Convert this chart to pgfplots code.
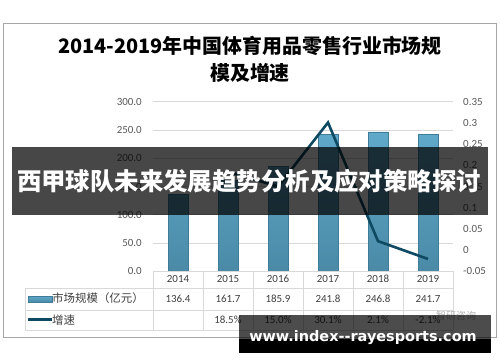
\documentclass[border=0pt]{standalone}
\usepackage{pgfplots}
\pgfplotsset{compat=1.18}
\usepackage{fontspec}
\setmainfont{Carlito}
\newfontfamily\cjk{Noto Sans CJK SC}
\newfontfamily\dvs{DejaVu Sans}
\definecolor{bartop}{HTML}{60A9CA}
\definecolor{barbot}{HTML}{4A8AA7}
\definecolor{bardraw}{HTML}{3F7C98}
\definecolor{linec}{HTML}{0E4A62}
\definecolor{labgray}{HTML}{595959}
\definecolor{txtgray}{HTML}{404040}
\definecolor{gridc}{HTML}{D9D9D9}
\begin{document}
\begin{tikzpicture}[x=1bp,y=1bp]
\path[use as bounding box] (0,0) rectangle (500,362);
\fill[white] (0,0) rectangle (500,362);
\draw[gray!70, line width=0.9bp] (3,339) rectangle (496,25);
% title
\node[font=\cjk\bfseries\fontsize{20}{24}\selectfont, text=black] at (250,316) {2014-2019年中国体育用品零售行业市场规};
\node[font=\cjk\bfseries\fontsize{20}{24}\selectfont, text=black] at (250,289) {模及增速};
% left axis with bars
\begin{axis}[at={(153bp,90.75bp)}, anchor=south west, scale only axis,
  width=300bp, height=169.5bp,
  xmin=-0.5, xmax=5.5, ymin=0, ymax=300,
  ytick={0,50,100,150,200,250,300}, xtick=\empty,
  axis line style={draw=none}, major tick length=0,
  ymajorgrids, grid style={gridc, line width=0.9bp},
  yticklabel style={font=\fontsize{11}{12}\selectfont, text=labgray, inner sep=0pt, xshift=-11bp,
    /pgf/number format/fixed, /pgf/number format/fixed zerofill,
    /pgf/number format/precision=1, /pgf/number format/assume math mode=true},
  ybar, bar width=20bp]
\addplot[draw=bardraw, line width=0.6bp, top color=bartop, bottom color=barbot]
  coordinates {(0,136.4) (1,161.7) (2,185.9) (3,241.8) (4,246.8) (5,241.7)};
\end{axis}
% right axis with growth line
\begin{axis}[at={(153bp,90.75bp)}, anchor=south west, scale only axis,
  width=300bp, height=169.5bp,
  xmin=-0.5, xmax=5.5, ymin=-0.05, ymax=0.35,
  axis y line*=right, axis x line=none,
  axis line style={draw=none}, major tick length=0,
  ytick={-0.05,0,0.05,0.1,0.15,0.2,0.25,0.3,0.35},
  yticklabels={-0.05,0,0.05,0.1,0.15,0.2,0.25,0.3,0.35},
  yticklabel style={font=\fontsize{11}{12}\selectfont, text=labgray, inner sep=0pt, xshift=10bp, anchor=west},
  xtick=\empty]
\addplot[linec, line width=2.6bp, no marks, line join=miter]
  coordinates {(1,0.185) (2,0.150) (3,0.301) (4,0.021) (5,-0.021)};
\end{axis}
% data table
\begin{scope}[gridc, line width=0.9bp]
\draw (153,90.75) -- (453,90.75);
\draw (25,74) -- (453,74);
\draw (25,52) -- (453,52);
\draw (25,32) -- (453,32);
\draw (25,74) -- (25,32);
\foreach \x in {153,203,253,303,353,403,453} {\draw (\x,90.75) -- (\x,32);}
\end{scope}
\foreach \y [count=\i from 0] in {2014,2015,2016,2017,2018,2019}
  {\node[font=\fontsize{11}{12}\selectfont, text=txtgray] at (178+50*\i,83) {\y};}
\foreach \v [count=\i from 0] in {136.4,161.7,185.9,241.8,246.8,241.7}
  {\node[font=\fontsize{11}{12}\selectfont, text=txtgray] at (178+50*\i,63.5) {\v};}
\foreach \v [count=\i from 1] in {18.5\%,15.0\%,30.1\%,2.1\%,-2.1\%}
  {\node[font=\fontsize{11}{12}\selectfont, text=txtgray] at (178+50*\i,42) {\v};}
\shade[top color=bartop, bottom color=barbot, draw=bardraw, line width=0.5bp] (28,60) rectangle (52,66);
\draw[linec, line width=3bp] (28,43) -- (52,43);
\node[font=\cjk\fontsize{11.5}{13}\selectfont, text=txtgray, anchor=west, inner sep=0pt] at (52,63.5) {市场规模（亿元）};
\node[font=\cjk\fontsize{11.5}{13}\selectfont, text=txtgray, anchor=west, inner sep=0pt] at (52,42) {增速};
\node[font=\cjk\fontsize{10}{12}\selectfont, text=gray!60, anchor=west, inner sep=0pt] at (436,46) {智研咨询};
% banner overlay
\fill[black, opacity=0.72] (12,215) rectangle (488,147);
\node[font=\cjk\bfseries\fontsize{24.5}{28}\selectfont, text=white] at (249,181) {西甲球队未来发展趋势分析及应对策略探讨};
% watermark
\fill[black, opacity=0.7] (239,47) rectangle (491,23);
\fill[black] (239,23) rectangle (491,9);
\node[font=\dvs\bfseries\fontsize{14.5}{16}\selectfont, text=white, anchor=base] at (363,21) {www.index{-}{-}rayesports.com};
\end{tikzpicture}
\end{document}
